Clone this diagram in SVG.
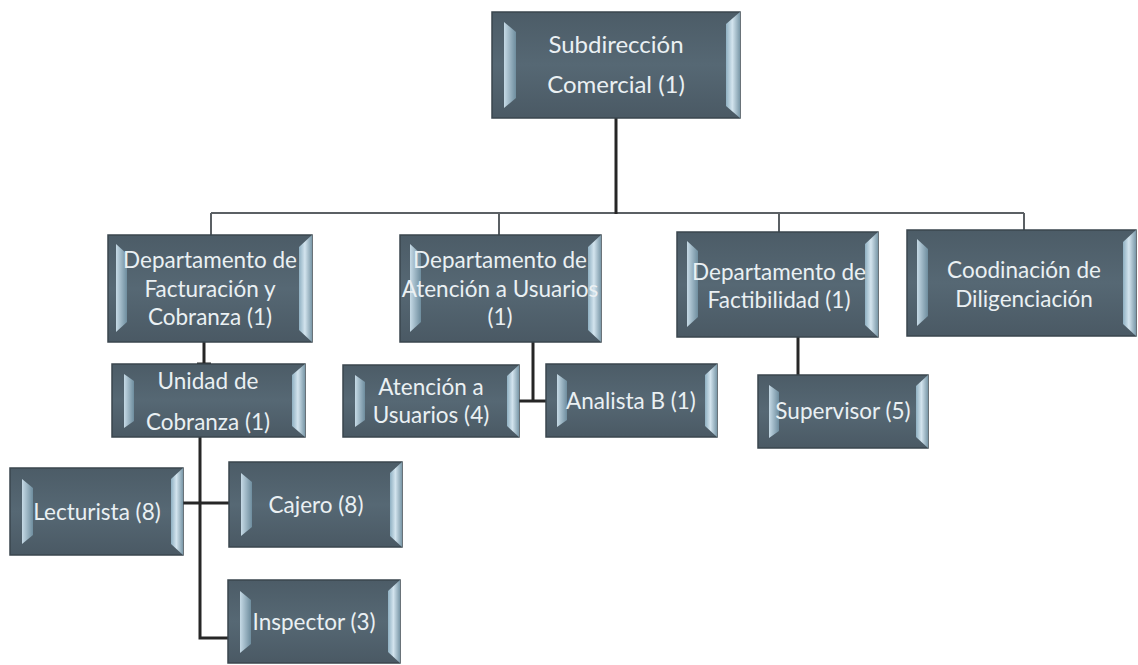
<svg xmlns="http://www.w3.org/2000/svg" width="1138" height="665" viewBox="0 0 1138 665">
<defs>
<linearGradient id="bodyG" x1="0" y1="0" x2="0" y2="1">
<stop offset="0" stop-color="#4c5c67"/>
<stop offset="0.5" stop-color="#566874"/>
<stop offset="1" stop-color="#4a5964"/>
</linearGradient>
<linearGradient id="leftG" x1="0" y1="0" x2="1" y2="0">
<stop offset="0" stop-color="#c6dae6"/>
<stop offset="1" stop-color="#6e8d9e"/>
</linearGradient>
<linearGradient id="rightG" x1="0" y1="0" x2="1" y2="0">
<stop offset="0" stop-color="#8fb0c2"/>
<stop offset="0.45" stop-color="#d3e4ee"/>
<stop offset="1" stop-color="#7a98a8"/>
</linearGradient>
<style>
.box{fill:url(#bodyG);stroke:#3a464e;stroke-width:1.5}
.bl{fill:url(#leftG)}
.br{fill:url(#rightG)}
.t{font-family:Lato,"Noto Sans",sans-serif;font-size:22.5px;fill:#eaf0f3;text-anchor:middle}
.bus{fill:none;stroke:#5b6064;stroke-width:2}
.ln{fill:none;stroke:#262626;stroke-width:3}
</style>
</defs>
<rect width="1138" height="665" fill="#ffffff"/>
<g id="connectors">
<path class="bus" d="M211 213 H1024 M211 213 V235 M499 213 V235 M779 213 V232 M1024 213 V230"/>
<path class="ln" d="M616 118 V214"/>
<path class="ln" d="M204 342 V364 M197 364 H211"/>
<path class="ln" d="M200 437 V638 H228 M183 503 H229"/>
<path class="ln" d="M533 342 V401 M519 401 H546"/>
<path class="ln" d="M798 337 V375"/>
</g>
<g id="n-subdireccion">
<rect class="box" x="492" y="12" width="248" height="106"/>
<polygon class="bl" points="504,22 516,32 516,98 504,108"/>
<polygon class="br" points="726,24 740,12 740,118 726,106"/>
<text class="t" x="616" y="53" style="font-size:24px">Subdirección</text>
<text class="t" x="616" y="93" style="font-size:24px">Comercial (1)</text>
</g>
<g id="n-facturacion">
<rect class="box" x="108" y="235" width="204" height="107"/>
<polygon class="bl" points="116,244 127,254 127,322 116,332"/>
<polygon class="br" points="299,247 312,235 312,342 299,330"/>
<text class="t" x="210" y="268">Departamento de</text>
<text class="t" x="210" y="297">Facturación y</text>
<text class="t" x="210" y="325">Cobranza (1)</text>
</g>
<g id="n-atencion-dep">
<rect class="box" x="400" y="235" width="201" height="107"/>
<polygon class="bl" points="410,244 421,254 421,322 410,332"/>
<polygon class="br" points="588,247 601,235 601,342 588,330"/>
<text class="t" x="500" y="268">Departamento de</text>
<text class="t" x="500" y="297">Atención a Usuarios</text>
<text class="t" x="500" y="325">(1)</text>
</g>
<g id="n-factibilidad">
<rect class="box" x="677" y="232" width="201" height="105"/>
<polygon class="bl" points="687,241 698,251 698,317 687,327"/>
<polygon class="br" points="865,244 878,232 878,337 865,325"/>
<text class="t" x="779" y="280">Departamento de</text>
<text class="t" x="779" y="308">Factibilidad (1)</text>
</g>
<g id="n-coordinacion">
<rect class="box" x="907" y="230" width="229" height="106"/>
<polygon class="bl" points="917,239 928,249 928,316 917,326"/>
<polygon class="br" points="1123,242 1136,230 1136,336 1123,324"/>
<text class="t" x="1024" y="278">Coodinación  de</text>
<text class="t" x="1024" y="307">Diligenciación</text>
</g>
<g id="n-unidad">
<rect class="box" x="112" y="364" width="193" height="73"/>
<polygon class="bl" points="124,374 134,381 134,421 124,428"/>
<polygon class="br" points="292,375 305,364 305,437 292,426"/>
<text class="t" x="208" y="389">Unidad de</text>
<text class="t" x="208" y="430">Cobranza (1)</text>
</g>
<g id="n-lecturista">
<rect class="box" x="10" y="468" width="173" height="87"/>
<polygon class="bl" points="22,479 33,488 33,535 22,544"/>
<polygon class="br" points="171,479 183,468 183,555 171,544"/>
<text class="t" x="97" y="520">Lecturista (8)</text>
</g>
<g id="n-cajero">
<rect class="box" x="229" y="462" width="173" height="85"/>
<polygon class="bl" points="241,473 252,482 252,527 241,536"/>
<polygon class="br" points="390,473 402,462 402,547 390,536"/>
<text class="t" x="316" y="513">Cajero (8)</text>
</g>
<g id="n-inspector">
<rect class="box" x="228" y="580" width="172" height="83"/>
<polygon class="bl" points="240,591 251,600 251,644 240,653"/>
<polygon class="br" points="388,591 400,580 400,663 388,652"/>
<text class="t" x="314" y="630">Inspector (3)</text>
</g>
<g id="n-atencion-usuarios">
<rect class="box" x="343" y="365" width="176" height="72"/>
<polygon class="bl" points="355,375 365,382 365,420 355,427"/>
<polygon class="br" points="507,376 519,365 519,437 507,426"/>
<text class="t" x="431" y="395">Atención a</text>
<text class="t" x="431" y="423">Usuarios (4)</text>
</g>
<g id="n-analista">
<rect class="box" x="546" y="364" width="171" height="73"/>
<polygon class="bl" points="557,374 567,381 567,420 557,427"/>
<polygon class="br" points="705,375 717,364 717,437 705,426"/>
<text class="t" x="631" y="409">Analista B (1)</text>
</g>
<g id="n-supervisor">
<rect class="box" x="758" y="375" width="170" height="73"/>
<polygon class="bl" points="769,385 779,392 779,431 769,438"/>
<polygon class="br" points="916,386 928,375 928,448 916,437"/>
<text class="t" x="843" y="419">Supervisor (5)</text>
</g>
</svg>
